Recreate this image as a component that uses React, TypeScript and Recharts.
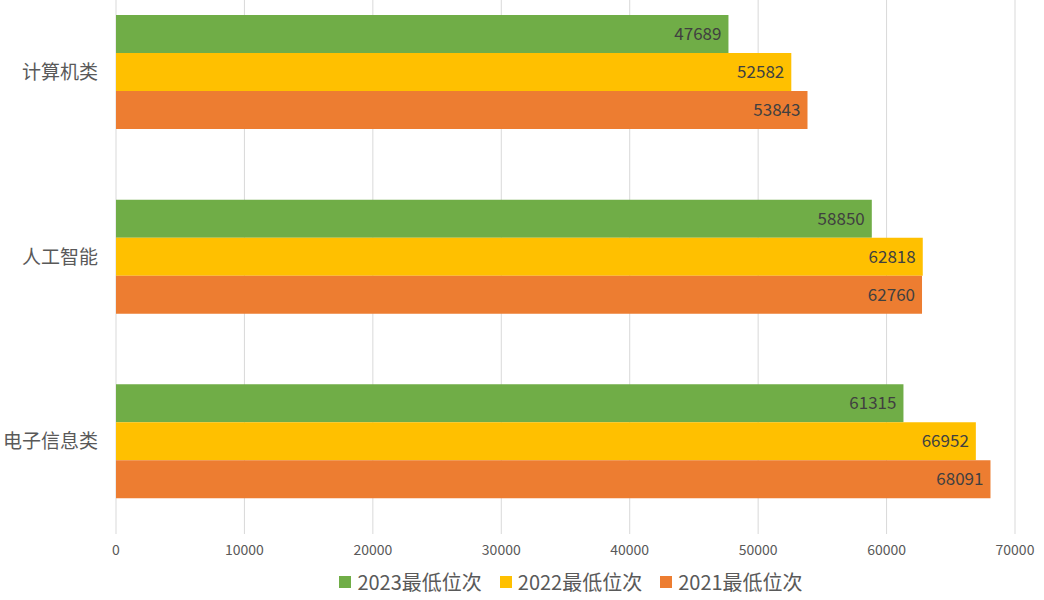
import React from 'react';
import { BarChart, Bar, XAxis, YAxis, CartesianGrid, Legend, LabelList } from 'recharts';

const categories = ['计算机类', '人工智能', '电子信息类'];
const min2023 = [47689, 58850, 61315];
const min2022 = [52582, 62818, 66952];
const min2021 = [53843, 62760, 68091];
const xTicks = [0, 10000, 20000, 30000, 40000, 50000, 60000, 70000];

const series = [
  { key: 'y2023', name: '2023最低位次', color: '#70AD47', values: min2023 },
  { key: 'y2022', name: '2022最低位次', color: '#FFC000', values: min2022 },
  { key: 'y2021', name: '2021最低位次', color: '#ED7D31', values: min2021 },
];

const data = categories.map((name, i) => {
  const row: Record<string, string | number> = { name };
  series.forEach((s) => {
    row[s.key] = s.values[i];
  });
  return row;
});

const FONT = '"Microsoft YaHei", "Noto Sans CJK SC", sans-serif';

const LegendBox = () => (
  <div
    style={{
      height: 30,
      boxSizing: 'border-box',
      display: 'flex',
      justifyContent: 'center',
      alignItems: 'center',
      paddingLeft: 116,
      paddingBottom: 7,
      fontFamily: FONT,
    }}
  >
    {series.map((s) => (
      <div key={s.key} style={{ display: 'flex', alignItems: 'center', marginRight: 18 }}>
        <span style={{ width: 12, height: 12, background: s.color, display: 'inline-block', marginRight: 6 }} />
        <span style={{ fontSize: 20, color: '#595959' }}>{s.name}</span>
      </div>
    ))}
  </div>
);

export default function App() {
  return (
    <div style={{ position: 'absolute', left: 0, top: 0, width: 1044, height: 600, overflow: 'hidden', background: '#fff' }}>
      <BarChart
        width={1044}
        height={600}
        data={data}
        layout="vertical"
        margin={{ top: -20, right: 29, bottom: 0, left: 0 }}
        barGap={0}
        barSize={38}
      >
        <CartesianGrid horizontal={false} stroke="#d9d9d9" />
        <XAxis
          type="number"
          domain={[0, 70000]}
          ticks={xTicks}
          interval={0}
          axisLine={false}
          tickLine={false}
          tickMargin={5}
          height={36}
          tick={{ fill: '#595959', fontSize: 14, fontFamily: FONT }}
        />
        <YAxis
          type="category"
          dataKey="name"
          width={116}
          axisLine={false}
          tickLine={false}
          tickMargin={12}
          tick={{ fill: '#595959', fontSize: 19, fontFamily: FONT }}
        />
        <Legend
          verticalAlign="bottom"
          wrapperStyle={{ left: 0, width: 1044 }}
          content={<LegendBox />}
        />
        {series.map((s) => (
          <Bar key={s.key} dataKey={s.key} name={s.name} fill={s.color} isAnimationActive={false}>
            <LabelList
              dataKey={s.key}
              position="insideRight"
              offset={7}
              fill="#404040"
              fontSize={17}
              fontFamily={FONT}
            />
          </Bar>
        ))}
      </BarChart>
    </div>
  );
}
